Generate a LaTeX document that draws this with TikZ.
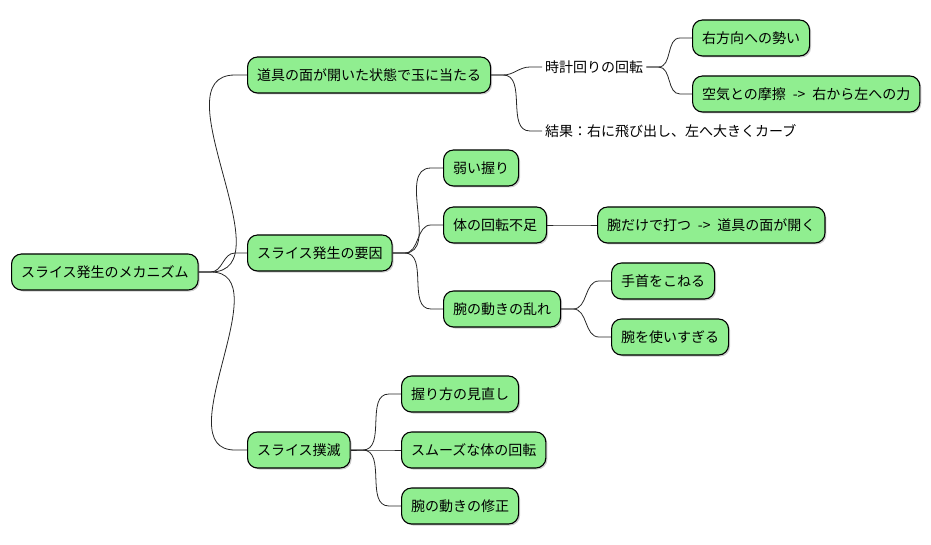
\documentclass[tikz,border=0pt]{standalone}
\usepackage{fontspec}
\newfontfamily\jpfont[WordSpace=2.2]{Noto Sans CJK JP}
\usepackage{xcolor}
\RequirePackage{tikz}
\usetikzlibrary{shadows}
\definecolor{mapgreen}{HTML}{90EE90}
\newcommand{\branch}[2]{\draw[branch] (#1.east) -- ++(12,0) to[out=0,in=180] ([xshift=-12pt]#2.west) -- (#2.west);}

\begin{document}
\begin{tikzpicture}[x=1pt, y=-1pt, every node/.style={font=\jpfont\fontsize{14}{16}\selectfont, anchor=west, text=black},
    idea/.style={draw=black, line width=1.1pt, fill=mapgreen, rounded corners=10pt, minimum height=36pt, inner xsep=9.5pt,
        drop shadow={shadow xshift=1.5pt, shadow yshift=-1.5pt, fill=black!40, opacity=0.5}},
    plain/.style={inner xsep=3pt},
    branch/.style={draw=black!85, line width=0.8pt}]

\useasboundingbox (0,0) rectangle (931,545);

\node[idea] (root) at (11,272) {スライス発生のメカニズム};
\node[idea] (face) at (247,75) {道具の面が開いた状態で玉に当たる};
\node[idea] (cause) at (247,253) {スライス発生の要因};
\node[idea] (fix) at (247,450) {スライス撲滅};
\node[plain] (spin) at (542,67) {時計回りの回転};
\node[plain] (result) at (542,131) {結果：右に飛び出し、左へ大きくカーブ};
\node[idea] (push) at (692,38) {右方向への勢い};
\node[idea] (drag) at (692,94) {空気との摩擦 -> 右から左への力};
\node[idea] (grip) at (443,168) {弱い握り};
\node[idea] (turn) at (443,225) {体の回転不足};
\node[idea] (arm) at (443,309) {腕の動きの乱れ};
\node[idea] (armonly) at (597,225) {腕だけで打つ -> 道具の面が開く};
\node[idea] (wrist) at (611,281) {手首をこねる};
\node[idea] (overuse) at (611,337) {腕を使いすぎる};
\node[idea] (regrip) at (401,394) {握り方の見直し};
\node[idea] (smooth) at (401,450) {スムーズな体の回転};
\node[idea] (armfix) at (401,506) {腕の動きの修正};

\foreach \a/\b in {root/face, root/cause, root/fix, face/spin, face/result, spin/push, spin/drag,
    cause/grip, cause/turn, cause/arm, turn/armonly, arm/wrist, arm/overuse, fix/regrip, fix/smooth, fix/armfix}
    \branch{\a}{\b};
\end{tikzpicture}
\end{document}
